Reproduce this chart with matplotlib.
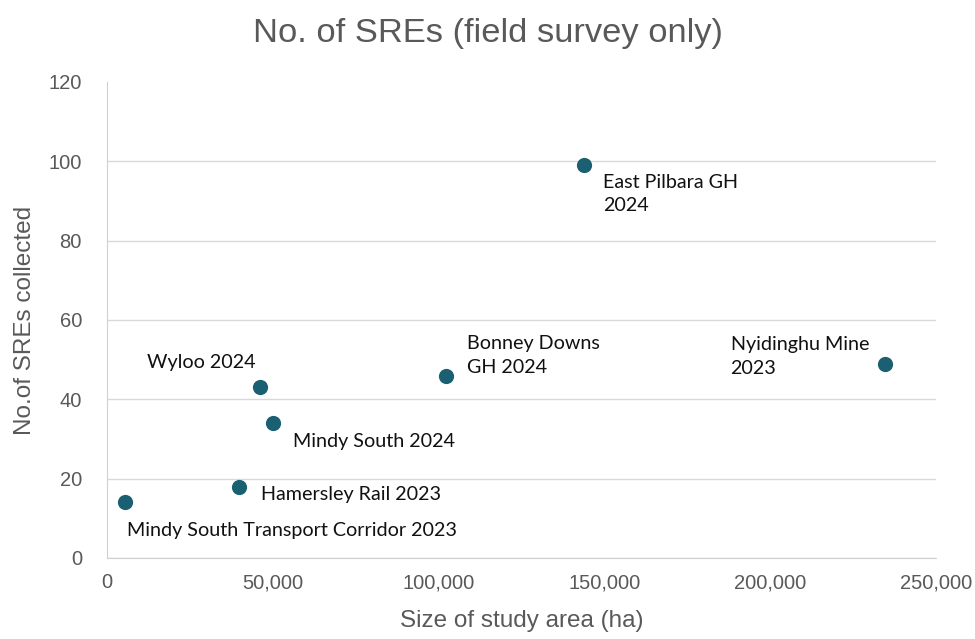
import matplotlib
matplotlib.use("Agg")
import matplotlib.pyplot as plt
from matplotlib.ticker import FuncFormatter

names = ["East Pilbara GH\n2024", "Nyidinghu Mine\n2023", "Bonney Downs\nGH 2024", "Wyloo 2024",
         "Mindy South 2024", "Hamersley Rail 2023", "Mindy South Transport Corridor 2023"]
area_ha = [144000, 234500, 102200, 46100, 50000, 39800, 5400]
sres = [99, 49, 46, 43, 34, 18, 14]
# label offsets in pixels (dx, dy) relative to the point, text block centred vertically
offsets = [(19, -29), (-154, 7), (21, 20), (-113, 25), (20, -18), (22, -8), (2, -28)]

fig = plt.figure(figsize=(9.75, 6.39), dpi=100)
ax = fig.add_axes([0.1097, 0.1268, 0.8503, 0.7449])

ax.scatter(area_ha, sres, s=120, color="#1b5f72", zorder=3, linewidths=0)

for n, x, y, (dx, dy) in zip(names, area_ha, sres, offsets):
    ax.annotate(n, (x, y), xytext=(dx, dy), textcoords="offset pixels",
                ha="left", va="center", fontsize=14.2, family="Lato", color="#111111",
                linespacing=1.45)

ax.set_xlim(0, 250000)
ax.set_ylim(0, 120)
ax.set_xticks(range(0, 250001, 50000))
ax.set_yticks(range(0, 121, 20))
ax.xaxis.set_major_formatter(FuncFormatter(lambda v, p: f"{int(v):,}"))
ax.grid(axis="y", color="#d9d9d9", linewidth=1.0)
ax.set_axisbelow(True)
ax.yaxis.get_gridlines()[-1].set_visible(False)
for s in ["top", "right"]:
    ax.spines[s].set_visible(False)
ax.spines["left"].set_color("#d0d0d0")
ax.spines["bottom"].set_color("#d0d0d0")
ax.tick_params(length=0, labelsize=14.5, colors="#595959")
ax.tick_params(axis="x", pad=11)
ax.tick_params(axis="y", pad=18)
for lbl in ax.get_xticklabels() + ax.get_yticklabels():
    lbl.set_family("Liberation Sans")

ax.set_xlabel("Size of study area (ha)", fontsize=17.5, color="#595959", family="Liberation Sans", labelpad=13)
ax.set_ylabel("No.of SREs collected", fontsize=17.5, color="#595959", family="Liberation Sans", labelpad=9)
fig.suptitle("No. of SREs (field survey only)", x=0.5, y=0.972, fontsize=24.8, color="#595959",
             family="Liberation Sans")

fig.savefig("out.png", dpi=100)
